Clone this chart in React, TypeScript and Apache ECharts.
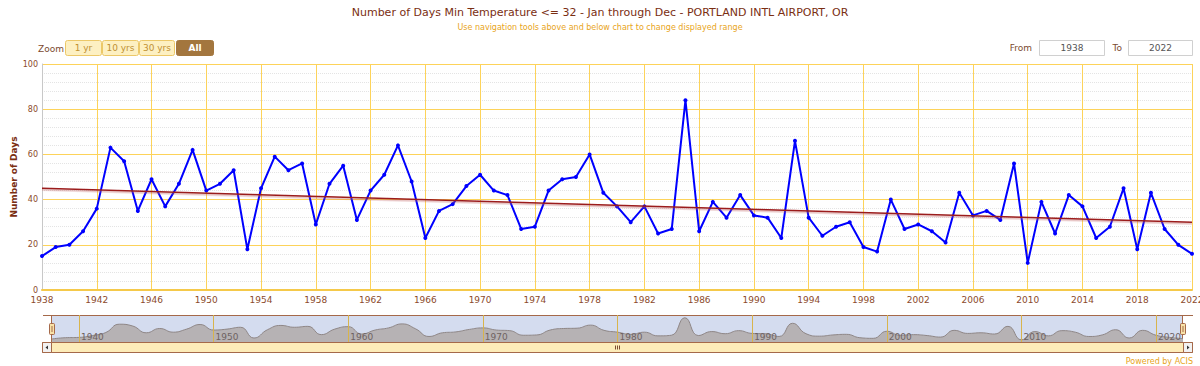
import React, { useEffect, useRef } from "react";
import * as echarts from "echarts";

const years: string[] = Array.from({ length: 85 }, (_, i) => String(1938 + i));
const days: number[] = [
  15, 19, 20, 26, 36, 63, 57, 35, 49, 37,
  47, 62, 44, 47, 53, 18, 45, 59, 53, 56,
  29, 47, 55, 31, 44, 51, 64, 48, 23, 35,
  38, 46, 51, 44, 42, 27, 28, 44, 49, 50,
  60, 43, 37, 30, 37, 25, 27, 84, 26, 39,
  32, 42, 33, 32, 23, 66, 32, 24, 28, 30,
  19, 17, 40, 27, 29, 26, 21, 43, 33, 35,
  31, 56, 12, 39, 25, 42, 37, 23, 28, 45,
  18, 43, 27, 20, 16,
];
const trendEnds: number[] = [45, 30];
const titleText = "Number of Days Min Temperature <= 32 - Jan through Dec - PORTLAND INTL AIRPORT, OR";
const subtitleText = "Use navigation tools above and below chart to change displayed range";
const zoomButtons: string[] = ["1 yr", "10 yrs", "30 yrs", "All"];
const rangeFrom = "1938";
const rangeTo = "2022";
const yAxisName = "Number of Days";

const FONT = "DejaVu Sans";
const BROWN = "#8b4a2b";
const GOLD = "#fdd35a";
const FRAME = "#a5694a";

function buildGraphic() {
  const els: any[] = [];
  els.push({
    type: "text", x: 38, y: 48.5,
    style: { text: "Zoom", fontSize: 9, fontFamily: FONT, fill: "#7b4a2f", align: "left", verticalAlign: "middle" },
  });
  const btnX = [65, 102, 139, 176];
  const btnW = [36, 36, 35, 37];
  zoomButtons.forEach((label, i) => {
    const active = i === zoomButtons.length - 1;
    els.push({
      type: "rect",
      shape: { x: btnX[i] + 0.5, y: 40.5, width: btnW[i], height: 15, r: 2 },
      style: { fill: active ? "#a3763e" : "#fdf0c2", stroke: active ? "#a3763e" : "#ecc868", lineWidth: 1 },
    });
    els.push({
      type: "text", x: btnX[i] + 0.5 + btnW[i] / 2, y: 48,
      style: {
        text: label, fontSize: 9, fontFamily: FONT, fontWeight: active ? "bold" : "normal",
        fill: active ? "#ffffff" : "#c09032", align: "center", verticalAlign: "middle",
      },
    });
  });
  els.push({ type: "text", x: 1032, y: 48, style: { text: "From", fontSize: 9, fontFamily: FONT, fill: "#7b4a2f", align: "right", verticalAlign: "middle" } });
  els.push({ type: "rect", shape: { x: 1039.5, y: 40.5, width: 65, height: 15 }, style: { fill: "#ffffff", stroke: "#d0d0d0", lineWidth: 1 } });
  els.push({ type: "text", x: 1072, y: 48, style: { text: rangeFrom, fontSize: 9, fontFamily: FONT, fill: "#555555", align: "center", verticalAlign: "middle" } });
  els.push({ type: "text", x: 1122, y: 48, style: { text: "To", fontSize: 9, fontFamily: FONT, fill: "#7b4a2f", align: "right", verticalAlign: "middle" } });
  els.push({ type: "rect", shape: { x: 1128.5, y: 40.5, width: 64, height: 15 }, style: { fill: "#ffffff", stroke: "#d0d0d0", lineWidth: 1 } });
  els.push({ type: "text", x: 1160.5, y: 48, style: { text: rangeTo, fontSize: 9, fontFamily: FONT, fill: "#555555", align: "center", verticalAlign: "middle" } });

  els.push({ type: "line", shape: { x1: 43, y1: 315.5, x2: 1193, y2: 315.5 }, style: { stroke: FRAME, lineWidth: 1 } });
  els.push({ type: "line", shape: { x1: 51.5, y1: 315, x2: 51.5, y2: 343 }, style: { stroke: FRAME, lineWidth: 1 } });
  els.push({ type: "line", shape: { x1: 1182.5, y1: 315, x2: 1182.5, y2: 343 }, style: { stroke: FRAME, lineWidth: 1 } });
  els.push({ type: "rect", shape: { x: 42.5, y: 342.5, width: 1150, height: 10 }, style: { fill: "#fdecb9", stroke: FRAME, lineWidth: 1 } });
  els.push({ type: "rect", shape: { x: 42.5, y: 342.5, width: 9, height: 10 }, style: { fill: "#f2f2f2", stroke: FRAME, lineWidth: 1 } });
  els.push({ type: "rect", shape: { x: 1183.5, y: 342.5, width: 9, height: 10 }, style: { fill: "#f2f2f2", stroke: FRAME, lineWidth: 1 } });
  els.push({ type: "polygon", shape: { points: [[48, 345.5], [48, 349.5], [45.5, 347.5]] }, style: { fill: "#333333" } });
  els.push({ type: "polygon", shape: { points: [[1187, 345.5], [1187, 349.5], [1189.5, 347.5]] }, style: { fill: "#333333" } });
  [615.5, 617.5, 619.5].forEach((gx) => {
    els.push({ type: "line", shape: { x1: gx, y1: 345.5, x2: gx, y2: 349.5 }, style: { stroke: "#7b4a2f", lineWidth: 1 } });
  });
  [49.5, 1180.5].forEach((hx) => {
    els.push({ type: "rect", shape: { x: hx, y: 323.5, width: 5, height: 11, r: 1 }, style: { fill: "#f8e2a8", stroke: FRAME, lineWidth: 1 } });
    els.push({ type: "line", shape: { x1: hx + 2.5, y1: 326, x2: hx + 2.5, y2: 332 }, style: { stroke: FRAME, lineWidth: 1 } });
  });
  els.push({
    type: "text", x: 1193, y: 361,
    style: { text: "Powered by ACIS", fontSize: 8, fontFamily: FONT, fill: "#e8a41a", align: "right", verticalAlign: "middle" },
  });
  return els;
}

export default function App() {
  const ref = useRef<HTMLDivElement>(null);
  useEffect(() => {
    if (!ref.current) return;
    const chart = echarts.init(ref.current, undefined, { renderer: "svg" });
    const navLabelShow = (_i: number, v: string) => Number(v) % 10 === 0;
    chart.setOption({
      animation: false,
      backgroundColor: "#ffffff",
      title: {
        text: titleText,
        subtext: subtitleText,
        left: "center",
        top: 2,
        itemGap: 5,
        textStyle: { fontSize: 11, fontWeight: "normal", fontFamily: FONT, color: "#7a2e12" },
        subtextStyle: { fontSize: 8, fontFamily: FONT, color: "#e8a41a" },
      },
      grid: [
        { left: 42, right: 8, top: 64, bottom: 76, containLabel: false, outerBoundsMode: "none" },
        { left: 52, right: 17, top: 315, height: 27, show: true, backgroundColor: "#d4dcef", borderWidth: 0, outerBoundsMode: "none" },
      ],
      xAxis: [
        {
          type: "category", gridIndex: 0, data: years, boundaryGap: false,
          axisLine: { show: true, lineStyle: { color: "#f5c94a", width: 2 } },
          axisTick: { show: false },
          axisLabel: { interval: 3, color: BROWN, fontSize: 9, fontFamily: FONT, margin: 5 },
          splitLine: { show: true, interval: 3, lineStyle: { color: GOLD, width: 1 } },
        },
        {
          type: "category", gridIndex: 1, data: years, boundaryGap: false, z: 5,
          axisLine: { show: false }, axisTick: { show: false },
          axisLabel: { inside: true, interval: navLabelShow, align: "left", color: "#6e6262", fontSize: 9, fontFamily: FONT, margin: 1, padding: [0, 0, 0, 2] },
          splitLine: { show: true, interval: navLabelShow, lineStyle: { color: "#d8b44c", width: 1 } },
        },
      ],
      yAxis: [
        {
          type: "value", gridIndex: 0, min: 0, max: 100, interval: 20,
          name: yAxisName, nameLocation: "middle", nameGap: 24, nameRotate: 90, nameMoveOverlap: false,
          nameTextStyle: { color: "#7a2e12", fontSize: 9, fontWeight: "bold", fontFamily: FONT },
          axisLine: { show: true, lineStyle: { color: "#c8c8c8" } },
          axisTick: { show: false },
          minorTick: { show: false, splitNumber: 5 },
          minorSplitLine: { show: true, lineStyle: { color: "#e4e4e4", type: "dotted", width: 1 } },
          axisLabel: { color: BROWN, fontSize: 8, fontFamily: FONT, margin: 4 },
          splitLine: { show: true, lineStyle: { color: GOLD, width: 1 } },
        },
        {
          type: "value", gridIndex: 1, min: 5, max: 93,
          axisLine: { show: false }, axisTick: { show: false }, axisLabel: { show: false }, splitLine: { show: false },
        },
      ],
      series: [
        {
          type: "line", xAxisIndex: 0, yAxisIndex: 0, data: days,
          symbol: "circle", symbolSize: 4,
          lineStyle: { color: "#0000ff", width: 2 },
          itemStyle: { color: "#0000ff" },
          z: 3,
        },
        {
          type: "line", xAxisIndex: 0, yAxisIndex: 0,
          data: [[years[0], trendEnds[0]], [years[years.length - 1], trendEnds[1]]],
          symbol: "none",
          lineStyle: { color: "#9b1a1a", width: 1.5, shadowColor: "rgba(190,90,90,0.45)", shadowOffsetY: 1.5, shadowBlur: 1 },
          z: 4,
        },
        {
          type: "line", xAxisIndex: 1, yAxisIndex: 1, data: days,
          smooth: 0.5, symbol: "none",
          lineStyle: { color: "#8e8686", width: 1 },
          areaStyle: { color: "#b6b2b4", opacity: 1 },
          z: 2,
        },
      ],
      graphic: buildGraphic(),
    });
    return () => chart.dispose();
  }, []);
  return (
    <div
      ref={ref}
      style={{ position: "absolute", left: 0, top: 0, width: 1200, height: 366 }}
    />
  );
}
